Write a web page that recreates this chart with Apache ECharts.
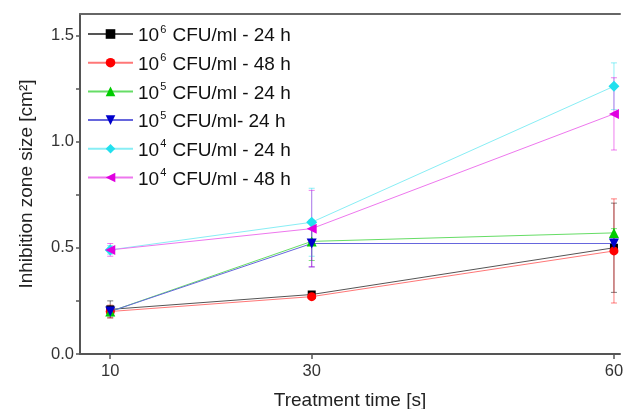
<!DOCTYPE html>
<html>
<head>
<meta charset="utf-8">
<script src="https://cdn.jsdelivr.net/npm/echarts@6/dist/echarts.min.js"></script>
<style>html,body{margin:0;padding:0;background:#fff;overflow:hidden}#c{width:624px;height:409px}</style>
</head>
<body>
<div id="c"></div>
<script>
const times = [10, 30, 60];
const xTicks = [10, 30, 60];
const yTicks = [0, 0.5, 1.0, 1.5];
const yAllTicks = [0, 0.25, 0.5, 0.75, 1.0, 1.25, 1.5];

const seriesNames = [
  '10^6 CFU/ml - 24 h',
  '10^6 CFU/ml - 48 h',
  '10^5 CFU/ml - 24 h',
  '10^5 CFU/ml- 24 h',
  '10^4 CFU/ml - 24 h',
  '10^4 CFU/ml - 48 h'
];
const v6_24 = [0.21, 0.28, 0.50];
const v6_48 = [0.20, 0.27, 0.485];
const v5_24 = [0.20, 0.53, 0.57];
const v5b_24 = [0.20, 0.52, 0.52];
const v4_24 = [0.49, 0.62, 1.26];
const v4_48 = [0.49, 0.59, 1.13];

const e6_24 = [0.04, 0.01, 0.21];
const e6_48 = [0.03, 0.01, 0.245];
const e5_24 = [0.02, 0.09, 0.02];
const e5b_24 = [0.02, 0.11, 0.02];
const e4_24 = [0.02, 0.16, 0.11];
const e4_48 = [0.03, 0.18, 0.17];

const values = [v6_24, v6_48, v5_24, v5b_24, v4_24, v4_48];
const errors = [e6_24, e6_48, e5_24, e5b_24, e4_24, e4_48];
const colors = ['#000000', '#ff0000', '#00cc00', '#0000cc', '#22e0ee', '#e000e0'];
const lineColors = ['#555555', '#ff7777', '#66dd66', '#6666dd', '#88eef5', '#ee77ee'];
const symbols = ['rect', 'circle', 'triangle', 'triangle', 'diamond', 'triangle'];
const rotates = [0, 0, 0, 180, 0, 90];
const sizes = [8, 9, 10, 10, 11, 10];

const FONT = 'Liberation Sans, Arial, sans-serif';

const series = [];
values.forEach((vals, i) => {
  series.push({
    name: seriesNames[i],
    type: 'line',
    z: 3,
    data: times.map((t, k) => [t, vals[k]]),
    symbol: symbols[i],
    symbolRotate: rotates[i],
    symbolSize: sizes[i],
    showAllSymbol: true,
    clip: false,
    color: colors[i],
    lineStyle: { color: lineColors[i], width: 1 },
    itemStyle: { color: colors[i] },
    animation: false
  });
});
values.forEach((vals, i) => {
  series.push({
    type: 'custom',
    silent: true,
    clip: false,
    z: 1,
    data: times.map((t, k) => [t, vals[k] - errors[i][k], vals[k] + errors[i][k]]),
    renderItem: function (params, api) {
      const lo = api.coord([api.value(0), api.value(1)]);
      const hi = api.coord([api.value(0), api.value(2)]);
      const w = 3;
      const st = { stroke: colors[i], lineWidth: 1, opacity: 0.5 };
      return {
        type: 'group',
        children: [
          { type: 'line', shape: { x1: lo[0], y1: lo[1], x2: hi[0], y2: hi[1] }, style: st },
          { type: 'line', shape: { x1: lo[0] - w, y1: lo[1], x2: lo[0] + w, y2: lo[1] }, style: st },
          { type: 'line', shape: { x1: hi[0] - w, y1: hi[1], x2: hi[0] + w, y2: hi[1] }, style: st }
        ]
      };
    }
  });
});

const chart = echarts.init(document.getElementById('c'), null, { renderer: 'canvas' });
chart.setOption({
  animation: false,
  backgroundColor: '#ffffff',
  grid: {
    left: 80, top: 14, width: 540, height: 340,
    outerBoundsMode: 'none', containLabel: false, show: false
  },
  legend: {
    data: seriesNames,
    orient: 'vertical',
    left: 82, top: 19,
    itemWidth: 45, itemHeight: 12, itemGap: 7.2,
    selectedMode: false,
    formatter: function (name) {
      const m = name.match(/^10\^(\d)(.*)$/);
      return '{b|10}{s|' + m[1] + '}{b|' + m[2] + '}';
    },
    textStyle: {
      rich: {
        b: { fontSize: 19, fontFamily: FONT, color: '#111', padding: [4, 0, 0, 0] },
        s: { fontSize: 11, fontFamily: FONT, color: '#111', padding: [0, 1, 9, 1] }
      }
    }
  },
  xAxis: [{
    type: 'value',
    min: 7, max: 60.6,
    name: 'Treatment time [s]',
    nameLocation: 'middle',
    nameGap: 37,
    nameTextStyle: { fontSize: 19, fontFamily: FONT, color: '#222', padding: [0, 0, 0, 0] },
    axisLine: { show: true, lineStyle: { color: '#555555', width: 2 } },
    axisTick: { show: true, inside: false, length: 5, customValues: xTicks, lineStyle: { color: '#555555', width: 1.5 } },
    axisLabel: { customValues: xTicks, fontSize: 16.5, fontFamily: FONT, color: '#333', margin: 9 },
    splitLine: { show: false }
  }, {
    type: 'value',
    position: 'top',
    min: 7, max: 60.6,
    axisLine: { show: true, onZero: false, lineStyle: { color: '#666666', width: 2 } },
    axisTick: { show: false },
    axisLabel: { show: false },
    splitLine: { show: false }
  }],
  yAxis: {
    type: 'value',
    min: 0, max: 1.6,
    name: 'Inhibition zone size [cm²]',
    nameLocation: 'middle',
    nameGap: 44,
    nameTextStyle: { fontSize: 19, fontFamily: FONT, color: '#222' },
    axisLine: { show: true, onZero: false, lineStyle: { color: '#555555', width: 2 } },
    axisTick: { show: true, inside: false, length: 4, customValues: yAllTicks, lineStyle: { color: '#555555', width: 1.5 } },
    axisLabel: { customValues: yTicks, fontSize: 16.5, fontFamily: FONT, color: '#333', margin: 6,
      formatter: v => v.toFixed(1) },
    splitLine: { show: false }
  },
  series: series
});
</script>
</body>
</html>
